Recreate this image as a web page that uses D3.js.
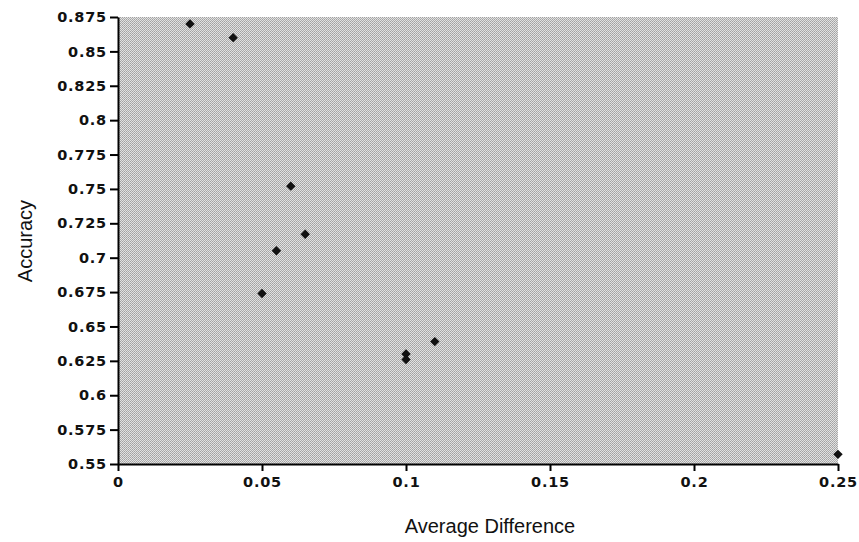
<!DOCTYPE html>
<html>
<head>
<meta charset="utf-8">
<script src="https://cdn.jsdelivr.net/npm/d3@7"></script>
<style>
  body { margin: 0; background: #fff; }
  svg text { font-family: "Liberation Sans", Arial, sans-serif; }
</style>
</head>
<body>
<div id="chart"></div>
<script>
var avgDiff  = [0.025, 0.04, 0.06, 0.065, 0.055, 0.05, 0.1, 0.1, 0.11, 0.25]
var accuracy = [0.870, 0.860, 0.752, 0.717, 0.705, 0.674, 0.630, 0.626, 0.639, 0.557]
var xTicks = [0, 0.05, 0.1, 0.15, 0.2, 0.25]
var yTicks = [0.55, 0.575, 0.6, 0.625, 0.65, 0.675, 0.7, 0.725, 0.75, 0.775, 0.8, 0.825, 0.85, 0.875]

var margin = { top: 17, right: 21, bottom: 78, left: 118 }
var width = 859 - margin.left - margin.right
var height = 542 - margin.top - margin.bottom

var svg = d3.select("#chart")
  .append("svg")
    .attr("width", 859)
    .attr("height", 542)

// dithered gray fill like the scanned original
var defs = svg.append("defs")
var pat = defs.append("pattern")
  .attr("id", "dither")
  .attr("width", 2).attr("height", 2)
  .attr("patternUnits", "userSpaceOnUse")
pat.append("rect").attr("width", 2).attr("height", 2).attr("fill", "#e2e2e2")
pat.append("rect").attr("width", 1).attr("height", 1).attr("fill", "#a2a2a2")
pat.append("rect").attr("x", 1).attr("y", 1).attr("width", 1).attr("height", 1).attr("fill", "#aeaeae")

var g = svg.append("g")
  .attr("transform", "translate(" + margin.left + "," + margin.top + ")")

var x = d3.scaleLinear().domain([0, 0.25]).range([0, width])
var y = d3.scaleLinear().domain([0.55, 0.875]).range([height, 0])

g.append("rect")
  .attr("width", width)
  .attr("height", height)
  .attr("fill", "url(#dither)")

var fmt = d3.format("~g")
var xAxis = g.append("g")
  .attr("transform", "translate(0," + height + ")")
  .call(d3.axisBottom(x).tickValues(xTicks).tickSize(7).tickSizeOuter(0).tickFormat(fmt))
var yAxis = g.append("g")
  .call(d3.axisLeft(y).tickValues(yTicks).tickSize(8).tickSizeOuter(0).tickFormat(fmt))

;[xAxis, yAxis].forEach(function (a) {
  a.select(".domain").attr("stroke", "#000").attr("stroke-width", 2)
  a.selectAll(".tick line").attr("stroke", "#000").attr("stroke-width", 2)
  a.selectAll(".tick text")
    .style("font-family", "'DejaVu Sans', sans-serif")
    .style("font-size", "14.5px")
    .style("font-weight", "bold")
    .style("letter-spacing", "0.8px")
    .attr("fill", "#111")
})
xAxis.selectAll(".tick text").attr("y", 13).attr("dy", "0.71em")
yAxis.selectAll(".tick text").attr("x", -11)

// points
g.append("g")
  .selectAll("path")
  .data(avgDiff).enter()
  .append("path")
    .attr("transform", function (d, i) { return "translate(" + x(d) + "," + y(accuracy[i]) + ") rotate(45)" })
    .attr("d", d3.symbol().type(d3.symbolSquare).size(44))
    .attr("fill", "#111")

// axis titles
svg.append("text")
  .attr("x", 490)
  .attr("y", 533)
  .attr("text-anchor", "middle")
  .style("font-size", "20px")
  .attr("fill", "#111")
  .text("Average Difference")

svg.append("text")
  .attr("transform", "translate(32," + 241 + ") rotate(-90)")
  .attr("text-anchor", "middle")
  .style("font-size", "20px")
  .attr("fill", "#111")
  .text("Accuracy")
</script>
</body>
</html>
